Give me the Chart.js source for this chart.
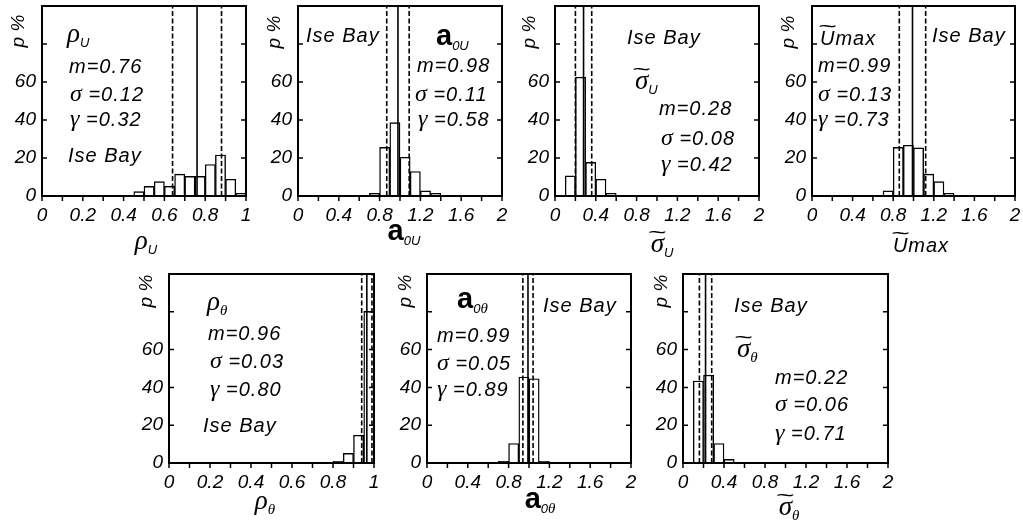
<!DOCTYPE html>
<html>
<head>
<meta charset="utf-8">
<script src="https://cdn.jsdelivr.net/npm/chart.js@4.4.0/dist/chart.umd.min.js"></script>
<style>
  body { margin: 0; background: #fff; width: 1023px; height: 523px; position: relative; overflow: hidden;
         font-family: "Liberation Sans", Arial, sans-serif; color: #000; }
  canvas { position: absolute; }
  .t { position: absolute; font-style: italic; font-size: 20px; line-height: 1; white-space: nowrap;
       letter-spacing: 1px; transform: translateY(-50%); }
  .c { transform: translate(-50%, -50%); }
  .g { font-family: "Liberation Serif", serif; font-size: 24px; letter-spacing: 0; }
  .big { font-size: 27px; }
  .sb { font-family: "Liberation Sans", sans-serif; font-style: italic; font-size: 13px; position: relative; top: 5px; letter-spacing: 0; }
  .sb .g { font-size: 15px; }
  .a { font-style: normal; font-weight: bold; font-size: 29px; letter-spacing: 0; }
  .tl { position: relative; display: inline-block; }
  .tw { position: absolute; left: -2px; right: -2px; top: -8px; text-align: center; font-style: normal;
        font-family: "Liberation Sans", sans-serif; font-size: 20px; transform: scaleX(1.6); letter-spacing: 0; }
  .tw.u { top: -12px; }
  .yl { position: absolute; font-style: italic; font-size: 19px; line-height: 1; white-space: nowrap;
        transform: translate(-50%, -50%) rotate(-90deg); }
</style>
</head>
<body>
<script>
// x tick labels and y tick labels
const ticksTo1 = ['0', '0.2', '0.4', '0.6', '0.8', '1'];
const ticksTo2 = ['0', '0.4', '0.8', '1.2', '1.6', '2'];
const yTickLabels = ['0', '20', '40', '60'];

// rho_U
const rhoUBins = [0.475, 0.525, 0.575, 0.625, 0.675, 0.725, 0.775, 0.825, 0.875, 0.925, 0.975];
const rhoUPct = [2.3, 5.1, 7.6, 5.1, 11.5, 10.3, 10.3, 16.6, 21.6, 8.8, 1.4];
const rhoULines = [0.64, 0.76, 0.88];

// a_0U
const a0UBins = [0.75, 0.85, 0.95, 1.05, 1.15, 1.25, 1.35];
const a0UPct = [1.4, 25.6, 38.6, 20.4, 12.9, 2.7, 1.4];
const a0ULines = [0.87, 0.98, 1.09];

// sigma~_U
const sigUBins = [0.15, 0.25, 0.35, 0.45, 0.55];
const sigUPct = [10.6, 62.5, 17.7, 8.8, 1.4];
const sigULines = [0.20, 0.28, 0.36];

// U~max
const umaxBins = [0.75, 0.85, 0.95, 1.05, 1.15, 1.25, 1.35];
const umaxPct = [2.7, 25.6, 26.7, 25.3, 11.5, 7.6, 1.4];
const umaxLines = [0.86, 0.99, 1.12];

// rho_theta
const rhoTBins = [0.825, 0.875, 0.925, 0.975];
const rhoTPct = [0.9, 5.1, 14.7, 80.2];
const rhoTLines = [0.94, 0.965, 0.99];

// a_0theta
const a0TBins = [0.75, 0.85, 0.95, 1.05, 1.15];
const a0TPct = [0.9, 10.3, 45.5, 44.6, 0.9];
const a0TLines = [0.94, 0.99, 1.04];

// sigma~_theta
const sigTBins = [0.15, 0.25, 0.35, 0.45];
const sigTPct = [43.4, 46.5, 10.3, 1.9];
const sigTLines = [0.16, 0.22, 0.28];

const tickFont = { family: 'Liberation Sans', size: 19, style: 'italic' };

// frame box plus tick marks (y inside on both sides, x outside)
const frameTicks = {
  id: 'frameTicks',
  afterDatasetsDraw(chart) {
    const ctx = chart.ctx, a = chart.chartArea;
    const xs = chart.scales.x, ys = chart.scales.y;
    ctx.save();
    ctx.strokeStyle = '#000';
    ctx.lineWidth = 2;
    ctx.strokeRect(a.left, a.top, a.right - a.left, a.bottom - a.top);
    ctx.lineWidth = 1.5;
    ctx.beginPath();
    ys.ticks.forEach(t => {
      const y = ys.getPixelForValue(t.value);
      ctx.moveTo(a.left - 1, y); ctx.lineTo(a.left + 5, y);
      ctx.moveTo(a.right + 1, y); ctx.lineTo(a.right - 5, y);
    });
    xs.ticks.forEach(t => {
      const x = xs.getPixelForValue(t.value);
      ctx.moveTo(x, a.bottom); ctx.lineTo(x, a.bottom + 5);
    });
    ctx.stroke();
    ctx.restore();
  }
};

function makePanel(left, top, w, h, xMax, xStep, xLabels, bins, pct, lines) {
  const cv = document.createElement('canvas');
  const cw = 42 + w + 20, ch = 6 + h + 36;
  cv.width = cw; cv.height = ch;
  cv.style.left = (left - 42) + 'px';
  cv.style.top = (top - 6) + 'px';
  cv.style.width = cw + 'px'; cv.style.height = ch + 'px';
  document.body.appendChild(cv);

  const lineSets = lines.map((v, i) => ({
    type: 'line',
    data: [{ x: v, y: 0 }, { x: v, y: 100 }],
    borderColor: '#000',
    borderWidth: 1.6,
    borderDash: i === 1 ? [] : [5, 2.5],
    pointRadius: 0,
    order: 0
  }));

  new Chart(cv, {
    type: 'bar',
    data: {
      datasets: [{
        data: bins.map((b, i) => ({ x: b, y: pct[i] })),
        backgroundColor: '#fff',
        borderColor: '#000',
        borderWidth: 1.4,
        barPercentage: 1,
        categoryPercentage: 1,
        order: 1
      }].concat(lineSets)
    },
    options: {
      responsive: false,
      animation: false,
      devicePixelRatio: 1,
      layout: { padding: { left: 0, top: 6, right: 20, bottom: 0 } },
      plugins: { legend: { display: false }, tooltip: { enabled: false } },
      scales: {
        x: {
          type: 'linear', min: 0, max: xMax, offset: false,
          grid: { display: false, drawTicks: false }, border: { display: false },
          ticks: {
            stepSize: xStep, autoSkip: false, maxRotation: 0, padding: 8,
            font: tickFont, color: '#000',
            callback: v => {
              const s = xLabels.find(l => Math.abs(Number(l) - v) < 1e-6);
              return s === undefined ? '' : s;
            }
          },
          afterFit: s => { s.height = 36; s.paddingLeft = 0; s.paddingRight = 0; }
        },
        y: {
          min: 0, max: 100,
          grid: { display: false, drawTicks: false }, border: { display: false },
          ticks: {
            stepSize: 10, padding: 6, font: tickFont, color: '#000',
            callback: v => yTickLabels.includes(String(v)) ? String(v) : ''
          },
          afterFit: s => { s.width = 42; s.paddingTop = 0; s.paddingBottom = 0; }
        }
      }
    },
    plugins: [frameTicks]
  });
}

function txt(html, x, y, extra) {
  const d = document.createElement('div');
  d.className = 't' + (extra ? ' ' + extra : '');
  d.style.left = x + 'px';
  d.style.top = y + 'px';
  d.innerHTML = html;
  document.body.appendChild(d);
}
function ylab(x, y) {
  const d = document.createElement('div');
  d.className = 'yl';
  d.style.left = x + 'px';
  d.style.top = y + 'px';
  d.textContent = 'p %';
  document.body.appendChild(d);
}

const G = s => '<span class="g">' + s + '</span>';
const sub = s => '<span class="sb">' + s + '</span>';
const tilde = (s, u) => '<span class="tl">' + s + '<span class="tw' + (u ? ' u' : '') + '">~</span></span>';
const stat = (sym, val) => sym === 'm' ? 'm=' + val : G(sym) + ' =' + val;
const bigG = s => G('<span class="big">' + s + '</span>');

// panels: top row
makePanel(42, 6, 204, 190, 1, 0.1, ticksTo1, rhoUBins, rhoUPct, rhoULines);
makePanel(298, 6, 204, 190, 2, 0.2, ticksTo2, a0UBins, a0UPct, a0ULines);
makePanel(555, 6, 204, 190, 2, 0.2, ticksTo2, sigUBins, sigUPct, sigULines);
makePanel(812, 6, 203, 190, 2, 0.2, ticksTo2, umaxBins, umaxPct, umaxLines);
// bottom row
makePanel(169, 274, 205, 189, 1, 0.1, ticksTo1, rhoTBins, rhoTPct, rhoTLines);
makePanel(427, 274, 204, 189, 2, 0.2, ticksTo2, a0TBins, a0TPct, a0TLines);
makePanel(683, 274, 205, 189, 2, 0.2, ticksTo2, sigTBins, sigTPct, sigTLines);

// y axis titles
[[17, 31], [273, 32], [528, 32], [787, 32], [145, 291], [404, 291], [660, 291]].forEach(p => ylab(p[0], p[1]));

// panel 1 rho_U
txt(bigG('ρ') + sub('U'), 67, 33);
txt(stat('m', '0.76'), 69, 66);
txt(stat('σ', '0.12'), 70, 93);
txt(stat('γ', '0.32'), 70, 118);
txt('Ise Bay', 68, 155);
txt(bigG('ρ') + sub('U'), 146, 240, 'c');

// panel 2 a_0U
txt('Ise Bay', 306, 35);
txt('<span class="a">a</span>' + sub('0U'), 436, 35);
txt(stat('m', '0.98'), 417, 65);
txt(stat('σ', '0.11'), 415, 93);
txt(stat('γ', '0.58'), 418, 118);
txt('<span class="a">a</span>' + sub('0U'), 404, 230, 'c');

// panel 3 sigma~_U
txt('Ise Bay', 627, 37);
txt(tilde(bigG('σ')) + sub('U'), 635, 80);
txt(stat('m', '0.28'), 659, 108);
txt(stat('σ', '0.08'), 661, 137);
txt(stat('γ', '0.42'), 661, 163);
txt(tilde(bigG('σ')) + sub('U'), 662, 243, 'c');

// panel 4 U~max
txt(tilde('U', true) + 'max', 820, 38);
txt(stat('m', '0.99'), 818, 65);
txt(stat('σ', '0.13'), 818, 93);
txt(stat('γ', '0.73'), 818, 118);
txt('Ise Bay', 932, 35);
txt(tilde('U', true) + 'max', 921, 245, 'c');

// panel 5 rho_theta
txt(bigG('ρ') + sub(G('θ')), 207, 301);
txt(stat('m', '0.96'), 208, 333);
txt(stat('σ', '0.03'), 210, 360);
txt(stat('γ', '0.80'), 210, 388);
txt('Ise Bay', 203, 425);
txt(bigG('ρ') + sub(G('θ')), 265, 500, 'c');

// panel 6 a_0theta
txt('<span class="a">a</span>' + sub('0' + G('θ')), 457, 298);
txt('Ise Bay', 543, 305);
txt(stat('m', '0.99'), 437, 335);
txt(stat('σ', '0.05'), 437, 362);
txt(stat('γ', '0.89'), 437, 388);
txt('<span class="a">a</span>' + sub('0' + G('θ')), 540, 498, 'c');

// panel 7 sigma~_theta
txt('Ise Bay', 734, 305);
txt(tilde(bigG('σ')) + sub(G('θ')), 737, 348);
txt(stat('m', '0.22'), 775, 377);
txt(stat('σ', '0.06'), 775, 403);
txt(stat('γ', '0.71'), 775, 432);
txt(tilde(bigG('σ')) + sub(G('θ')), 789, 506, 'c');
</script>
</body>
</html>
